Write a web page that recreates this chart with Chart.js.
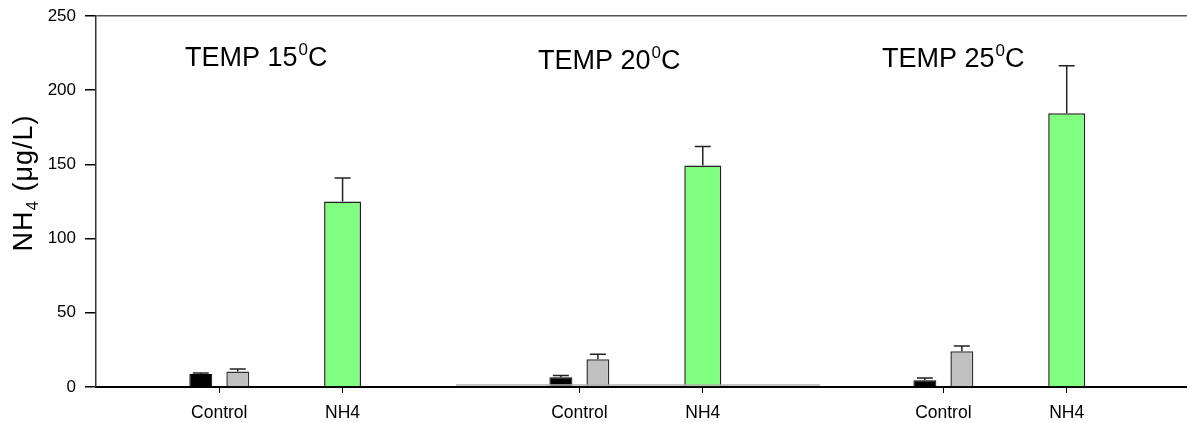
<!DOCTYPE html>
<html>
<head>
<meta charset="utf-8">
<script src="https://cdn.jsdelivr.net/npm/chart.js@4.4.0/dist/chart.umd.min.js"></script>
<style>
  body { margin: 0; background: #fff; }
  #wrap { position: relative; width: 1187px; height: 423px; }
  canvas { position: absolute; top: 0; }
</style>
</head>
<body>
<div id="wrap">
  <canvas id="p0" width="456" height="423" style="left:0"></canvas>
  <canvas id="p1" width="364" height="423" style="left:456px"></canvas>
  <canvas id="p2" width="367" height="423" style="left:820px"></canvas>
</div>
<script>
// x categories inside each temperature panel
const groups = ['Control', 'NH4'];
const temps = ['15', '20', '25'];
const yTicks = [0, 50, 100, 150, 200, 250];

// Control group: two bars (black, grey), NH4 group: one green bar
const ctrlBlack = [8.8, 6.5, 4.6];
const ctrlBlackErr = [0.6, 1.2, 1.4];
const ctrlGrey = [10.4, 18.7, 24.1];
const ctrlGreyErr = [1.7, 3.3, 3.5];
const nh4 = [125.0, 149.3, 184.4];
const nh4Err = [15.9, 12.8, 32.1];

const FONT = '"Liberation Sans", Arial, Helvetica, sans-serif';
Chart.defaults.font.family = FONT;
Chart.defaults.color = '#000';

const errorBars = {
  id: 'errorBars',
  afterDatasetsDraw(chart) {
    const ctx = chart.ctx, y = chart.scales.y;
    ctx.save();
    ctx.strokeStyle = '#222';
    ctx.lineWidth = 1.5;
    chart.data.datasets.forEach((ds, di) => {
      chart.getDatasetMeta(di).data.forEach((bar, j) => {
        const v = ds.data[j].y, e = ds.errors[j];
        if (v == null || e == null) return;
        const y0 = y.getPixelForValue(v), y1 = y.getPixelForValue(v + e);
        ctx.beginPath();
        ctx.moveTo(bar.x, y0); ctx.lineTo(bar.x, y1);
        ctx.moveTo(bar.x - 8, y1); ctx.lineTo(bar.x + 8, y1);
        ctx.stroke();
      });
    });
    ctx.restore();
  }
};

// "TEMP 15⁰C" with a raised 0
const panelTitle = {
  id: 'panelTitle',
  afterDraw(chart, args, o) {
    if (!o.text) return;
    const ctx = chart.ctx;
    const big = o.size + 'px ' + FONT, small = Math.round(o.size * 0.62) + 'px ' + FONT;
    let x = chart.chartArea.left + o.dx;
    ctx.save();
    ctx.fillStyle = '#000';
    ctx.textBaseline = 'alphabetic';
    ctx.font = big;
    ctx.fillText(o.text, x, o.y);
    x += ctx.measureText(o.text).width + 1;
    ctx.font = small;
    ctx.fillText('0', x, o.y - o.size * 0.42);
    x += ctx.measureText('0').width;
    ctx.font = big;
    ctx.fillText('C', x, o.y);
    ctx.restore();
  }
};

// rotated y title "NH4 (μg/L)" with a lowered 4
const yLabel = {
  id: 'yLabel',
  afterDraw(chart, args, o) {
    if (!o.on) return;
    const ctx = chart.ctx;
    const big = o.size + 'px ' + FONT, small = Math.round(o.size * 0.62) + 'px ' + FONT;
    const parts = [['NH', big, 0], ['4', small, o.size * 0.22], [' (μg/L)', big, 0]];
    ctx.save();
    ctx.letterSpacing = o.spacing;
    let w = 0;
    parts.forEach(p => { ctx.font = p[1]; w += ctx.measureText(p[0]).width; });
    ctx.translate(o.x, o.y);
    ctx.rotate(-Math.PI / 2);
    ctx.fillStyle = '#000';
    ctx.textBaseline = 'alphabetic';
    let x = -w / 2;
    parts.forEach(p => {
      ctx.font = p[1];
      ctx.fillText(p[0], x, o.size * 0.36 + p[2]);
      x += ctx.measureText(p[0]).width;
    });
    ctx.restore();
  }
};

const baseShade = {
  id: 'baseShade',
  afterDraw(chart, args, o) {
    if (!o.on) return;
    const ctx = chart.ctx, a = chart.chartArea;
    ctx.save();
    ctx.strokeStyle = '#b0b0b0';
    ctx.lineWidth = 1.5;
    ctx.beginPath();
    ctx.moveTo(a.left, a.bottom - 2);
    ctx.lineTo(a.right, a.bottom - 2);
    ctx.stroke();
    ctx.restore();
  }
};

const xMax = [2.92, 2.95, 2.975];
const titlePos = [{dx: 89, y: 66}, {dx: 82, y: 69}, {dx: 62, y: 67}];

temps.forEach((t, i) => {
  const first = i === 0;
  new Chart(document.getElementById('p' + i), {
    type: 'bar',
    data: {
      datasets: [{
        data: [{x: 1, y: ctrlBlack[i]}, {x: 2, y: null}],
        errors: [ctrlBlackErr[i], null],
        backgroundColor: '#000', borderColor: '#000', borderWidth: 1,
        barPercentage: 0.62
      }, {
        data: [{x: 1, y: ctrlGrey[i]}, {x: 2, y: null}],
        errors: [ctrlGreyErr[i], null],
        backgroundColor: '#c0c0c0', borderColor: '#333', borderWidth: 1.5,
        barPercentage: 0.62
      }, {
        data: [{x: 1, y: null}, {x: 2, y: nh4[i]}],
        errors: [null, nh4Err[i]],
        backgroundColor: '#80ff80', borderColor: '#222', borderWidth: 1.5,
        barPercentage: 0.5
      }]
    },
    options: {
      responsive: false,
      animation: false,
      layout: { padding: { top: 16, bottom: 0, left: 0, right: 0 } },
      datasets: { bar: { skipNull: true, categoryPercentage: 0.6 } },
      plugins: {
        legend: { display: false },
        tooltip: { enabled: false },
        panelTitle: { text: 'TEMP ' + t, size: 27, dx: titlePos[i].dx, y: titlePos[i].y },
        yLabel: { on: first, size: 27, spacing: '1px', x: 22, y: 183 },
        baseShade: { on: i === 1 }
      },
      scales: {
        x: {
          type: 'linear', min: 0, max: xMax[i], offset: false,
          afterBuildTicks: s => { s.ticks = s.ticks.filter(k => k.value === 1 || k.value === 2); },
          afterFit: s => { s.height = 36; },
          ticks: { stepSize: 1, callback: v => groups[v - 1], font: { size: 17.5 }, padding: 10, maxRotation: 0, autoSkip: false },
          grid: { offset: false, drawOnChartArea: false, tickLength: 6, color: '#000', lineWidth: 1 },
          border: { color: '#000', width: 2 }
        },
        y: {
          min: 0, max: 250,
          afterBuildTicks: s => { s.ticks = yTicks.map(v => ({value: v})); },
          afterFit: s => { s.width = first ? 96 : 0; s.paddingTop = 0; s.paddingBottom = 0; },
          ticks: { display: first, font: { size: 17 }, padding: 9 },
          grid: {
            drawTicks: first, tickLength: 11, tickColor: '#000', lineWidth: 1.5,
            color: c => c.tick && c.tick.value === 250 ? '#555' : 'rgba(0,0,0,0)'
          },
          border: { display: first, color: '#333', width: 1.5 },
          title: { display: false }
        }
      }
    },
    plugins: [errorBars, panelTitle, yLabel, baseShade]
  });
});
</script>
</body>
</html>
